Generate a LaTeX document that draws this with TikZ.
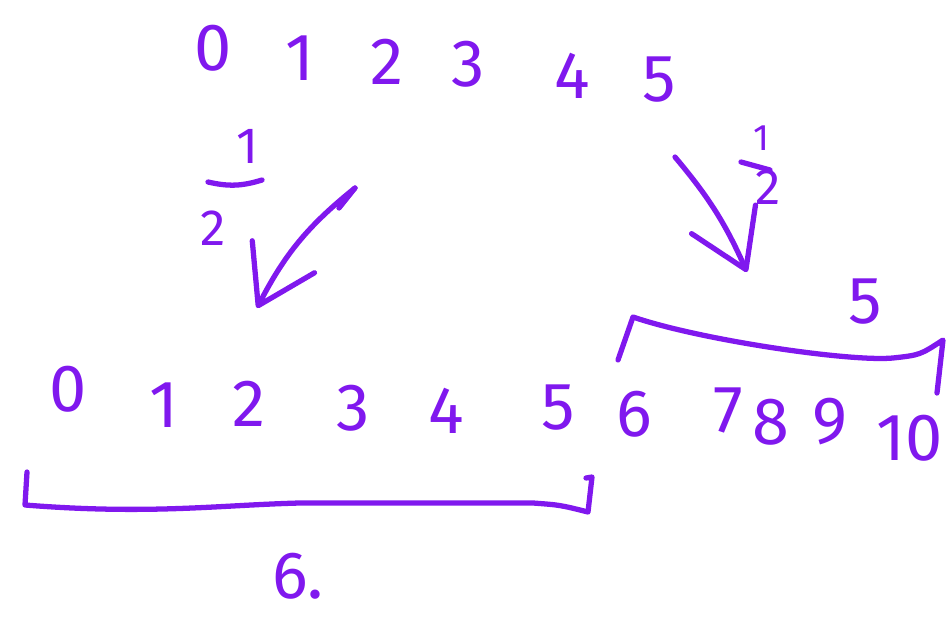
\documentclass[tikz,border=0pt]{standalone}
\usepackage{fontspec}
\setmainfont{Fira Sans}
\usetikzlibrary{arrows.meta,positioning,calc}
\definecolor{ink}{RGB}{128,24,238}

\begin{document}
\begin{tikzpicture}[
    x=0.02cm, y=-0.02cm,
    digit/.style={text=ink, font=\fontsize{38}{40}\selectfont, inner sep=0pt},
    small/.style={text=ink, font=\fontsize{29}{31}\selectfont, inner sep=0pt},
    tiny/.style={text=ink, font=\fontsize{21}{23}\selectfont, inner sep=0pt},
    stroke/.style={draw=ink, line width=3pt, line cap=round, line join=round},
    arrow/.style={stroke, -{Straight Barb[length=11mm, width=14mm, round]}},
]
\useasboundingbox (0,0) rectangle (947,619);

% ====== Top row ======
\node[digit] (t0) at (213,48) {0};
\node[digit] (t1) at (300,58) {1};
\node[digit] (t2) at (387,62) {2};
\node[digit] (t3) at (468,64) {3};
\node[digit] (t4) at (572,76) {4};
\node[digit] (t5) at (659,80) {5};

% ====== Bottom row ======
\node[digit] (b0) at (68,389) {0};
\node[digit] (b1) at (164,405) {1};
\node[digit] (b2) at (249,404) {2};
\node[digit] (b3) at (353,408) {3};
\node[digit] (b4) at (446,411) {4};
\node[digit] (b5) at (558,408) {5};
\node[digit] (b6) at (634,414) {6};
\node[digit] (b7) at (728,410) {7};
\node[digit] (b8) at (771,422) {8};
\node[digit] (b9) at (830,422) {9};
\node[digit] (b10) at (910,438) {10};

% ====== Arrows with factor ======
\coordinate (lstart) at (355,188);
\coordinate (lend) at (257,308);
\draw[arrow] (lstart) to[bend right=12] (lend);
\draw[stroke] (lstart) -- ++(-16,20);

\node[small] (lnum) at (248,146) {1};
\node[small] (lden) at (213,228) {2};
\draw[stroke] (208,182) to[bend right=15] (262,180);

\coordinate (rstart) at (675,157);
\coordinate (rend) at (747,272);
\draw[arrow] (rstart) to[bend left=8] (rend);

\node[tiny] (rnum) at (761,138) {1};
\node[small] (rden) at (768,187) {2};
\draw[stroke] (741,162) -- (770,170);

% ====== Brackets ======
\coordinate (bl) at (27,472);
\coordinate (br) at (592,477);
\draw[stroke] (bl) -- (25,505) .. controls (150,515) and (220,505) .. (300,503)
    -- (533,503) .. controls (560,505) .. (588,512) -- (br) -- ++(-6,1);
\node[digit] (six) at (298,576) {6.};

\coordinate (ul) at (618,360);
\coordinate (ur) at (937,393);
\draw[stroke] (ul) -- (633,317) .. controls (700,340) and (850,362) .. (893,358)
    .. controls (920,355) .. (943,340) -- (ur);
\node[digit] (five) at (865,302) {5};

\end{tikzpicture}
\end{document}
